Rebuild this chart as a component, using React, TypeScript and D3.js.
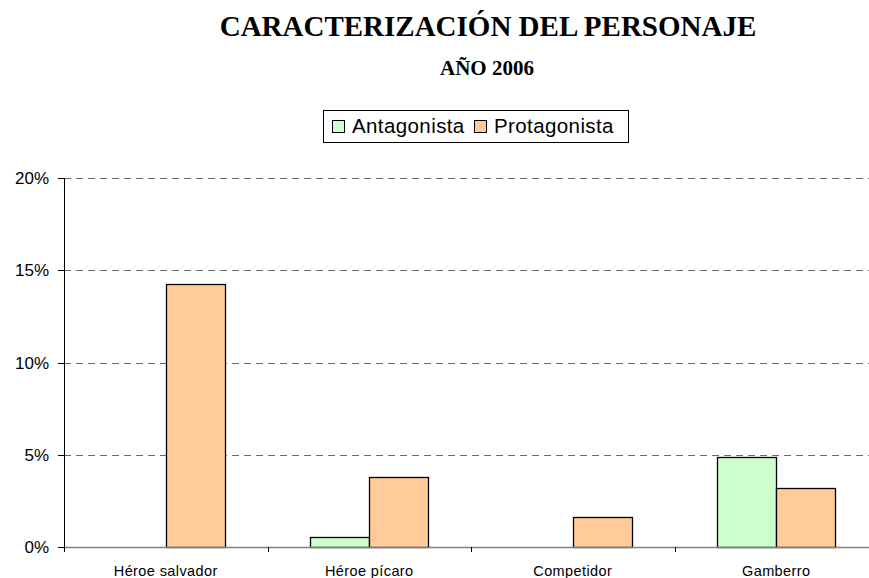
import React from "react";
import * as d3 from "d3";

const categories = ["Héroe salvador", "Héroe pícaro", "Competidor", "Gamberro"];
const seriesNames = ["Antagonista", "Protagonista"];
const antagonista = [0, 0.55, 0, 4.9];
const protagonista = [14.25, 3.8, 1.65, 3.2];
const yTicks = [0, 5, 10, 15, 20];
const colors = ["#CCFFCC", "#FFCC99"];

export default function App() {
  const W = 869, H = 578;
  const x0 = 64, x1 = 878, yTop = 178, yBot = 547;
  const x = d3.scaleBand<string>().domain(categories).range([x0, x1]).paddingInner(0).paddingOuter(0);
  const y = d3.scaleLinear().domain([0, 20]).range([yBot, yTop]);
  const bw = x.bandwidth();
  const barW = bw * 0.29;
  const series = [antagonista, protagonista];
  const font = "Liberation Sans, Arial, sans-serif";
  const serif = "Liberation Serif, Times New Roman, serif";
  return (
    <svg width={W} height={H} style={{ position: "absolute", left: 0, top: 0, background: "#fff" }}>
      <text x={488} y={36} textAnchor="middle" fontFamily={serif} fontWeight="bold" fontSize={29}>CARACTERIZACIÓN DEL PERSONAJE</text>
      <text x={487} y={75} textAnchor="middle" fontFamily={serif} fontWeight="bold" fontSize={21}>AÑO 2006</text>
      {/* legend */}
      <rect x={323.5} y={110.5} width={305} height={32} fill="#fff" stroke="#000" />
      {seriesNames.map((n, i) => {
        const lx = i === 0 ? 332 : 474;
        return (
          <g key={n}>
            <rect x={lx + 0.5} y={120.5} width={12} height={12} fill={colors[i]} stroke="#000" />
            <text x={lx + 20} y={133} fontFamily={font} fontSize={20.5} letterSpacing={0.4}>{n}</text>
          </g>
        );
      })}
      {/* gridlines */}
      {yTicks.filter(t => t > 0).map(t => (
        <line key={t} x1={x0} x2={W} y1={Math.round(y(t)) + 0.5} y2={Math.round(y(t)) + 0.5} stroke="#666" strokeDasharray="7,5" />
      ))}
      {/* bars */}
      {categories.map((c, ci) => {
        const cx = (x(c) as number) + bw / 2;
        return series.map((s, si) => {
          const v = s[ci];
          if (v <= 0) return null;
          const bx = si === 0 ? cx - barW : cx;
          return (
            <rect key={c + si} x={Math.round(bx) + 0.5} y={Math.round(y(v)) + 0.5} width={Math.round(barW)} height={Math.round(yBot - y(v))} fill={colors[si]} stroke="#000" strokeWidth={1.3} />
          );
        });
      })}
      {/* baseline */}
      <line x1={x0} x2={W} y1={yBot + 0.5} y2={yBot + 0.5} stroke="#808080" strokeWidth={1.3} />
      {categories.map((c) => (
        <line key={c} x1={Math.round(x(c) as number) + 0.5} x2={Math.round(x(c) as number) + 0.5} y1={yBot} y2={yBot + 5} stroke="#000" />
      ))}
      {/* y axis */}
      <line x1={x0 + 0.5} x2={x0 + 0.5} y1={yTop} y2={yBot + 5} stroke="#000" />
      {yTicks.map(t => (
        <g key={t}>
          <line x1={x0 - 6} x2={x0} y1={Math.round(y(t)) + 0.5} y2={Math.round(y(t)) + 0.5} stroke="#000" />
          <text x={49} y={y(t) + 6} textAnchor="end" fontFamily={font} fontSize={17}>{t}%</text>
        </g>
      ))}
      {categories.map(c => (
        <text key={c} x={(x(c) as number) + bw / 2} y={576} textAnchor="middle" fontFamily={font} fontSize={14.5} letterSpacing={0.4}>{c}</text>
      ))}
    </svg>
  );
}
